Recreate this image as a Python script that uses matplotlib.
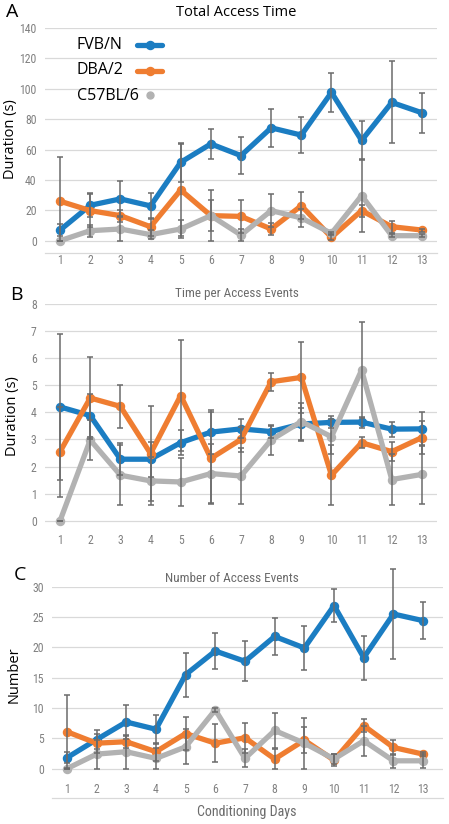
import numpy as np
import matplotlib
matplotlib.use("Agg")
import matplotlib.pyplot as plt
from matplotlib.lines import Line2D

days = list(range(1, 14))
day_labels = [str(d) for d in days]
strains = ["FVB/N", "DBA/2", "C57BL/6"]

# Panel A: Total Access Time (s)
a_fvb = [7, 23.3, 27.5, 22.9, 51.6, 63.7, 56, 74.3, 69.5, 97.6, 66, 91, 84.2]
a_fvb_err = [4, 8, 11.5, 8.5, 13, 10, 12, 12.5, 12, 13, 13, 27, 13]
a_dba = [26, 19.8, 16.5, 9.2, 33.4, 16.5, 16, 7.7, 23, 2.2, 19.8, 9.2, 7]
a_dba_err = [29, 11, 4, 6, 30, 17, 11, 4, 9, 2, 4, 4, 1]
a_c57 = [0, 6.6, 7.7, 4, 7.7, 16.5, 3.7, 19.8, 15, 4.8, 29.7, 3.3, 3.3]
a_c57_err = [0, 4, 7.7, 3, 6, 10, 4, 11, 6, 1, 24, 1, 1]

# Panel B: Time per Access Event (s)
b_fvb = [4.2, 3.88, 2.27, 2.27, 2.88, 3.27, 3.39, 3.29, 3.57, 3.63, 3.64, 3.38, 3.39]
b_fvb_err = [2.7, 0.8, 0.6, 0.65, 0.45, 0.8, 0.35, 0.22, 0.6, 0.22, 0.2, 0.28, 0.62]
b_dba = [2.55, 4.53, 4.22, 2.48, 4.62, 2.3, 3.0, 5.13, 5.29, 1.68, 2.88, 2.55, 3.07]
b_dba_err = [1.66, 1.5, 0.8, 1.74, 2.05, 1.7, 0.45, 0.33, 1.3, 1.1, 0.2, 0.35, 0.6]
b_c57 = [0, 2.98, 1.68, 1.47, 1.43, 1.74, 1.65, 2.98, 3.66, 3.1, 5.56, 1.52, 1.71]
b_c57_err = [0, 0.75, 1.1, 0.9, 0.88, 1.1, 1.05, 0.55, 0.7, 0.65, 1.77, 0.95, 1.1]

# Panel C: Number of Access Events
c_fvb = [1.8, 4.8, 7.7, 6.5, 15.5, 19.4, 17.7, 21.8, 19.9, 26.9, 18.3, 25.5, 24.4]
c_fvb_err = [0.9, 1.5, 2.8, 2.4, 3.6, 3.0, 3.3, 3.0, 3.6, 2.8, 3.6, 7.5, 3.1]
c_dba = [6.1, 4.2, 4.45, 2.8, 5.8, 4.2, 5.1, 1.6, 4.7, 1.4, 7.1, 3.5, 2.4]
c_dba_err = [6.0, 1.6, 1.0, 1.5, 2.8, 3.1, 2.5, 1.6, 2.1, 1.0, 1.1, 1.3, 0.3]
c_c57 = [0, 2.4, 2.8, 1.7, 3.6, 9.7, 1.7, 6.3, 4.2, 1.6, 4.6, 1.3, 1.3]
c_c57_err = [0, 2.4, 2.8, 1.7, 2.9, 0.3, 1.5, 2.9, 4.2, 0.8, 2.5, 1.2, 1.2]

colors = ["#1b7dc2", "#ef7d31", "#b2b2b2"]
err_color = "#6b6b6b"
grid_color = "#d9d9d9"
tick_color = "#808080"
narrow = ["Roboto Condensed", "DejaVu Sans"]
plain = ["Open Sans", "DejaVu Sans"]

W, H = 449, 824
fig = plt.figure(figsize=(W / 100, H / 100), dpi=100)


def add_axes(left, right, top, bottom):
    return fig.add_axes([left / W, 1 - bottom / H, (right - left) / W, (bottom - top) / H])


def style(ax, ylim, yticks, xlim, show_bottom):
    ax.set_ylim(*ylim)
    ax.set_xlim(*xlim)
    ax.set_yticks(yticks)
    ax.set_xticks(days)
    ax.set_xticklabels(day_labels)
    ax.grid(axis="y", color=grid_color, linewidth=0.9, zorder=0)
    ax.set_axisbelow(True)
    for s in ["top", "right", "left"]:
        ax.spines[s].set_visible(False)
    ax.spines["bottom"].set_visible(show_bottom)
    ax.spines["bottom"].set_color(grid_color)
    ax.spines["bottom"].set_linewidth(0.9)
    ax.tick_params(length=0, colors=tick_color, labelsize=8.5, pad=6)
    ax.tick_params(axis="x", pad=1)
    for lab in ax.get_xticklabels() + ax.get_yticklabels():
        lab.set_family(narrow)


def draw(ax, series, errs):
    for i, vals in enumerate(series):
        ax.plot(days, vals, color=colors[i], lw=3.8, marker="o", ms=5.8,
                solid_capstyle="round", zorder=3 + i)
    for i, (vals, err) in enumerate(zip(series, errs)):
        vals = np.asarray(vals, float)
        err = np.asarray(err, float)
        lower = np.minimum(err, vals)
        ax.errorbar(days, vals, yerr=[lower, err], fmt="none", ecolor=err_color,
                    elinewidth=1.1, capsize=2.2, capthick=1.1, zorder=7, clip_on=False)


texts_to_fit = []


def ftext(x, y, s, target_w=None, **kw):
    t = fig.text(x / W, 1 - y / H, s, ha=kw.pop("ha", "center"), va=kw.pop("va", "center"), **kw)
    if target_w:
        texts_to_fit.append((t, target_w))
    return t


# Panel A
axA = add_axes(45, 437, 28, 252.7)
draw(axA, [a_fvb, a_dba, a_c57], [a_fvb_err, a_dba_err, a_c57_err])
style(axA, (-7.9, 140), range(0, 141, 20), (0.5, 13.5), True)

# legend (text left, sample right)
leg_rows = [45, 70.5, 96]
for i, name in enumerate(strains):
    ftext(77, leg_rows[i], name, ha="left", fontsize=11.5, family=plain, color="black")
    if i < 2:
        fig.add_artist(Line2D([137 / W, 162 / W], [1 - leg_rows[i] / H] * 2, color=colors[i],
                              lw=3.8, solid_capstyle="round", transform=fig.transFigure))
    fig.add_artist(Line2D([149.5 / W], [1 - (leg_rows[i] - (1 if i == 2 else 0)) / H],
                          color=colors[i], marker="o", ms=5.8 if i < 2 else 5.0, lw=0,
                          transform=fig.transFigure))

ftext(236.5, 12, "Total Access Time", target_w=121, fontsize=10.5, family=plain, color="black")
ftext(10.5, 139.5, "Duration (s)", fontsize=10.5, rotation=90, family=plain, color="black")
ftext(12, 12, "A", fontsize=14, family=plain, color="black")

# Panel B
axB = add_axes(45, 437, 304, 532.7)
draw(axB, [b_fvb, b_dba, b_c57], [b_fvb_err, b_dba_err, b_c57_err])
style(axB, (-0.443, 8), range(0, 9), (0.5, 13.5), False)
ftext(237, 294, "Time per Access Events", target_w=124, fontsize=9.5, family=narrow,
      color="#6b6b6b")
ftext(13, 416, "Duration (s)", fontsize=10.5, rotation=90, family=plain, color="black")
ftext(16, 295, "B", fontsize=14, family=plain, color="black")

# Panel C
axC = add_axes(52, 443, 586.7, 798)
draw(axC, [c_fvb, c_dba, c_c57], [c_fvb_err, c_dba_err, c_c57_err])
style(axC, (-4.83, 30), range(0, 31, 5), (0.5, 13.67), True)
axC.tick_params(axis="x", pad=-11)
ftext(232, 578, "Number of Access Events", target_w=134, fontsize=9.5, family=narrow,
      color="#6b6b6b")
ftext(246.5, 812, "Conditioning Days", target_w=100, fontsize=9.5, family=narrow,
      color="#6b6b6b")
ftext(14, 675, "Number", fontsize=10.5, rotation=90, family=plain, color="black")
ftext(20, 575, "C", fontsize=14, family=plain, color="black")

# scale selected texts so their widths match the reference layout
fig.canvas.draw()
r = fig.canvas.get_renderer()
for t, tw in texts_to_fit:
    w = t.get_window_extent(r).width
    t.set_fontsize(t.get_fontsize() * tw / w)

fig.savefig("out.png", dpi=100)
